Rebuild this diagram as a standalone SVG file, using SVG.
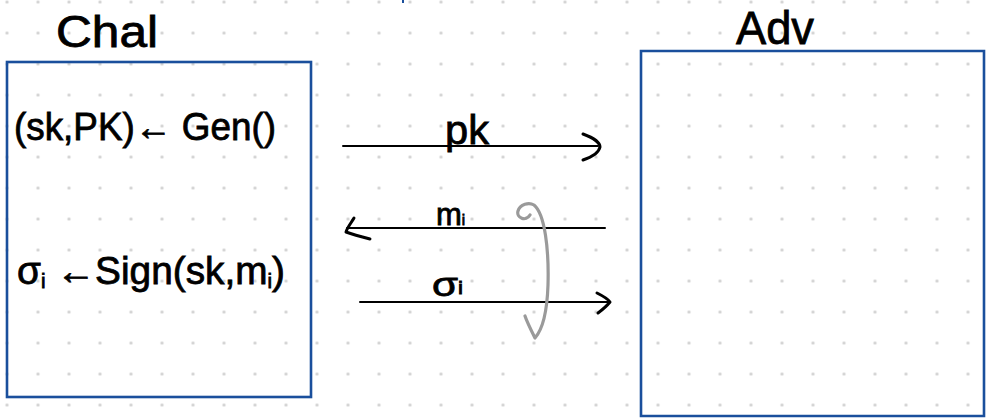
<svg xmlns="http://www.w3.org/2000/svg" width="989" height="418" viewBox="0 0 989 418">
  <defs>
    <pattern id="dots" patternUnits="userSpaceOnUse" x="-8.5" y="-13.5" width="31" height="31">
      <circle cx="15.5" cy="15.5" r="1.6" fill="#cfcfcf"/>
    </pattern>
    <style>
      .box { fill: none; stroke: #1a4f9c; stroke-width: 2.6; }
      .hand { font-family: "Liberation Sans", "DejaVu Sans", sans-serif; fill: #000; stroke: #000; stroke-width: 0.8; }
      .wire { stroke: #000; stroke-width: 2; fill: none; stroke-linecap: round; }
      .head { stroke: #000; stroke-width: 3; fill: none; stroke-linecap: round; stroke-linejoin: round; }
      .loop { stroke: #9a9a9a; stroke-width: 3.2; fill: none; stroke-linecap: round; stroke-linejoin: round; }
    </style>
  </defs>
  <rect width="989" height="418" fill="#ffffff"/>
  <rect width="989" height="418" fill="url(#dots)"/>
  <line x1="403" y1="0" x2="403" y2="3" stroke="#1a4f9c" stroke-width="2"/>

  <g id="chal">
    <text class="hand" x="56" y="47" font-size="44" textLength="102" lengthAdjust="spacingAndGlyphs">Chal</text>
    <rect class="box" x="7" y="62" width="304" height="335"/>
    <text class="hand" x="14" y="140" font-size="38" textLength="262" lengthAdjust="spacingAndGlyphs">(sk,PK)← Gen()</text>
    <text class="hand" x="17" y="284" font-size="38" textLength="268" lengthAdjust="spacingAndGlyphs">σ<tspan font-size="20" dy="4">i</tspan><tspan dy="-4"> ←Sign(sk,m</tspan><tspan font-size="20" dy="4">i</tspan><tspan dy="-4">)</tspan></text>
  </g>

  <g id="adv">
    <text class="hand" x="736" y="44" font-size="46" textLength="78" lengthAdjust="spacingAndGlyphs">Adv</text>
    <path class="box" d="M641,51 H984 V416 H641 Z"/>
  </g>

  <g id="connectors">
    <line class="wire" x1="343" y1="146" x2="598" y2="146"/>
    <path class="head" d="M583,134 C594,138 600,143 600,147 C599,152 592,157 583,160"/>
    <text class="hand" x="445" y="144" font-size="40" textLength="44" lengthAdjust="spacingAndGlyphs">pk</text>

    <line class="wire" x1="347" y1="228" x2="605" y2="228"/>
    <path class="head" d="M354,218 C351,223 347,228 346,232 C354,235 362,237 370,239"/>
    <text class="hand" x="436" y="225" font-size="31">m<tspan font-size="15">i</tspan></text>

    <line class="wire" x1="360" y1="302" x2="608" y2="302"/>
    <path class="head" d="M597,293 C603,296 608,299 610,302 C606,307 602,310 598,313"/>
    <text class="hand" x="432" y="296" font-size="34" textLength="31" lengthAdjust="spacingAndGlyphs">σ<tspan font-size="18" dy="-2">i</tspan></text>

    <path class="loop" d="M530,215 C526,222 516,218 518,211 C520,204 529,202 534,205 C545,214 549,250 548,285 C547,315 542,330 535,338 C531,330 527,322 525,316"/>
  </g>
</svg>
